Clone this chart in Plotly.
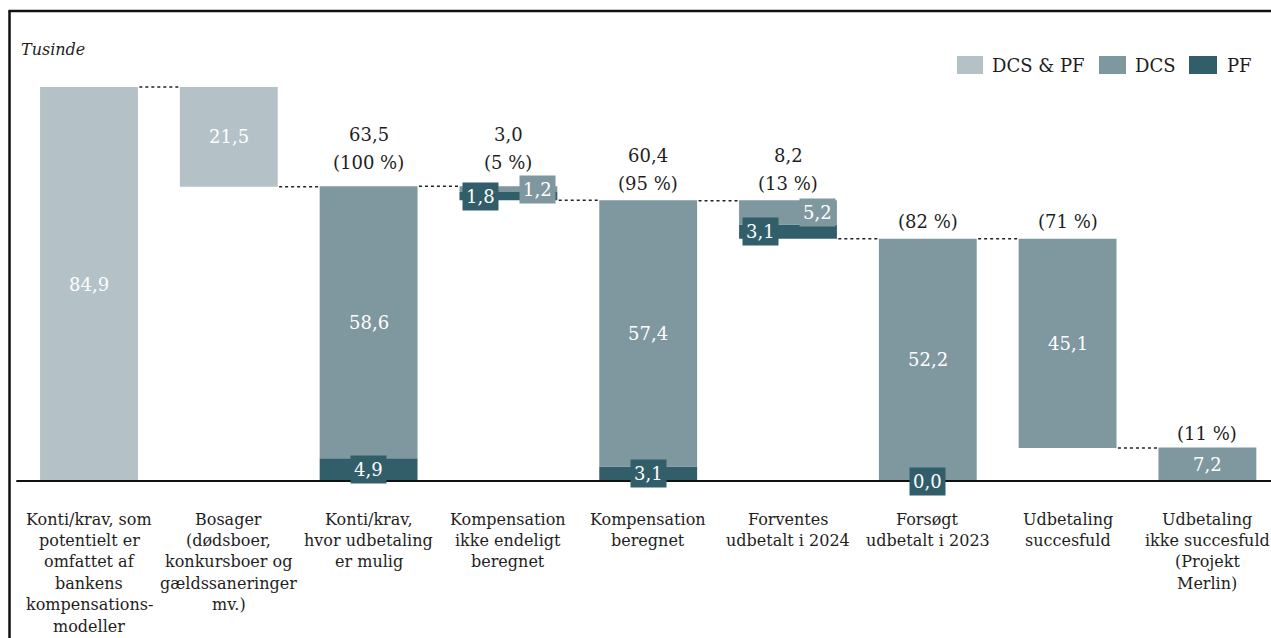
import plotly.graph_objects as go

# ---------------- data ----------------
categories = [
    ["Konti/krav, som", "potentielt er", "omfattet af", "bankens", "kompensations-", "modeller"],
    ["Bosager", "(dødsboer,", "konkursboer og", "gældssaneringer", "mv.)"],
    ["Konti/krav,", "hvor udbetaling", "er mulig"],
    ["Kompensation", "ikke endeligt", "beregnet"],
    ["Kompensation", "beregnet"],
    ["Forventes", "udbetalt i 2024"],
    ["Forsøgt", "udbetalt i 2023"],
    ["Udbetaling", "succesfuld"],
    ["Udbetaling", "ikke succesfuld", "(Projekt", "Merlin)"],
]
dcs_pf = [84.9, 21.5, None, None, None, None, None, None, None]
dcs = [None, None, 58.6, 1.2, 57.4, 5.2, 52.2, 45.1, 7.2]
pf = [None, None, 4.9, 1.8, 3.1, 3.1, 0.0, None, None]
totals = [84.9, 21.5, 63.5, 3.0, 60.4, 8.2, 52.2, 45.1, 7.2]
measure = ["total", "relative", "total", "relative", "total", "relative", "total", "relative", "total"]
shares = [None, None, 100, 5, 95, 13, 82, 71, 11]
total_above = [False, False, True, True, True, True, False, False, False]
series_names = ["DCS & PF", "DCS", "PF"]

# ---------------- style ----------------
C_LIGHT = "#b4c2c7"
C_DCS = "#7f979f"
C_PF = "#325e6a"
TXT = "#1e1e1e"
FONT = "DejaVu Serif"
BAR_W = 0.7
W, H = 1271, 638
ML, MT = 8, 10
share_shift = [0, 0, 24, 24, 17, 17, 17, 17, 14]  # px above bar top

def fmt(v):
    return f"{v:.1f}".replace(".", ",")

# waterfall bases
bases, ends = [], []
level = 0.0
for t, m in zip(totals, measure):
    if m == "total":
        base = 0.0
        level = t
    else:
        base = level - t
        level = base
    bases.append(base)
    ends.append(level)
tops = [b + t for b, t in zip(bases, totals)]

x = list(range(len(categories)))
pf0 = [v if v is not None else 0.0 for v in pf]

fig = go.Figure()
fig.add_trace(go.Bar(x=x, y=dcs_pf, base=bases, width=BAR_W, marker_color=C_LIGHT,
                     marker_line_width=0, name=series_names[0], showlegend=False))
fig.add_trace(go.Bar(x=x, y=pf, base=bases, width=BAR_W, marker_color=C_PF,
                     marker_line_width=0, name=series_names[2], showlegend=False))
fig.add_trace(go.Bar(x=x, y=dcs, base=[b + p for b, p in zip(bases, pf0)], width=BAR_W,
                     marker_color=C_DCS, marker_line_width=0, name=series_names[1], showlegend=False))

ann = []
shapes = []

def label(xv, yv, text, color="white", bg=None, size=18, xs=0, ys=0, xanchor="center", yanchor="middle"):
    d = dict(x=xv, y=yv, xref="x", yref="y", text=text, showarrow=False,
             font=dict(family=FONT, size=size, color=color),
             xanchor=xanchor, yanchor=yanchor, xshift=xs, yshift=ys)
    if bg:
        d.update(bgcolor=bg, borderpad=3)
    ann.append(d)

for i in x:
    b = bases[i]
    if dcs_pf[i] is not None:
        label(i, b + dcs_pf[i] / 2, fmt(dcs_pf[i]))
    if pf[i] is not None and dcs[i] is not None and totals[i] < 10:
        label(i - 0.2, b + pf[i] / 2, fmt(pf[i]), bg=C_PF)
        label(i + 0.21, b + pf[i] + dcs[i] / 2, fmt(dcs[i]), bg=C_DCS)
    else:
        if pf[i] is not None:
            label(i, b + pf[i] / 2, fmt(pf[i]), bg=C_PF)
        if dcs[i] is not None:
            label(i, b + pf0[i] + dcs[i] / 2, fmt(dcs[i]))
    if shares[i] is not None:
        label(i, tops[i], f"({shares[i]} %)", color=TXT, ys=share_shift[i])
        if total_above[i]:
            label(i, tops[i], fmt(totals[i]), color=TXT, ys=share_shift[i] + 28)
    for k, line in enumerate(categories[i]):
        label(i, 0, line, color=TXT, size=16, ys=-(38 + 21.4 * k))

# connectors
for i in range(len(x) - 1):
    shapes.append(dict(type="line", xref="x", yref="y", x0=i + BAR_W / 2 + 0.01, x1=i + 1 - BAR_W / 2 - 0.01,
                       y0=ends[i], y1=ends[i], line=dict(color="#222", width=1.5, dash="dot")))

# zero line
shapes.append(dict(type="line", xref="x", yref="y", x0=-0.52, x1=9, y0=0, y1=0,
                   line=dict(color="#111", width=2)))

# frame (left and top)
def px_x(p):
    return (p - ML) / (W - ML)

def px_y(p):
    return (H - p) / (H - MT)

shapes.append(dict(type="line", xref="paper", yref="paper", x0=px_x(9.5), x1=px_x(9.5),
                   y0=px_y(640), y1=px_y(10.5), line=dict(color="#111", width=2.5)))
shapes.append(dict(type="line", xref="paper", yref="paper", x0=px_x(8.5), x1=px_x(1275),
                   y0=px_y(11), y1=px_y(11), line=dict(color="#111", width=2.5)))

# legend (custom swatches)
leg = [(957, 983, 990, C_LIGHT, series_names[0]), (1099, 1126, 1133, C_DCS, series_names[1]),
       (1189, 1217, 1225, C_PF, series_names[2])]
for x0, x1, tx, col, nm in leg:
    shapes.append(dict(type="rect", xref="paper", yref="paper", x0=px_x(x0), x1=px_x(x1),
                       y0=px_y(74), y1=px_y(56), fillcolor=col, line=dict(width=0)))
    ann.append(dict(x=px_x(tx), y=px_y(65), xref="paper", yref="paper", text=nm, showarrow=False,
                    xanchor="left", yanchor="middle", font=dict(family=FONT, size=18, color=TXT)))

ann.append(dict(x=px_x(19), y=px_y(50), xref="paper", yref="paper", text="<i>Tusinde</i>",
                showarrow=False, xanchor="left", yanchor="middle",
                font=dict(family=FONT, size=16, color=TXT)))

PXU = 4.64
k = 139.8
xmin = -(89 - ML) / k
xmax = xmin + (W - ML) / k
ymax = (481 - MT) / PXU
ymin = -(H - 481) / PXU

fig.update_layout(
    width=W, height=H,
    margin=dict(l=ML, r=0, t=MT, b=0),
    paper_bgcolor="white", plot_bgcolor="white",
    barmode="overlay",
    xaxis=dict(range=[xmin, xmax], visible=False, fixedrange=True),
    yaxis=dict(range=[ymin, ymax], visible=False, fixedrange=True),
    annotations=ann, shapes=shapes,
    font=dict(family=FONT),
)
fig.write_html("out.html")
